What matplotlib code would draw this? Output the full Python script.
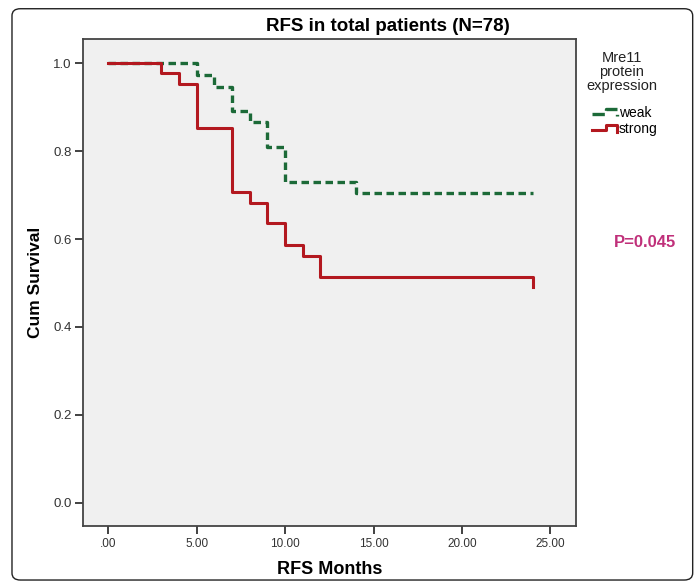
import numpy as np
import matplotlib
matplotlib.use('Agg')
from matplotlib import pyplot as plt
from matplotlib.patches import FancyBboxPatch
from matplotlib.lines import Line2D
from matplotlib.legend_handler import HandlerBase

# Kaplan-Meier steps
weak_times = [0, 5, 6, 7, 8, 9, 10, 14, 24]
weak_surv = [1.0, 0.973, 0.945, 0.892, 0.866, 0.810, 0.730, 0.704, 0.704]

strong_times = [0, 3, 4, 5, 7, 8, 9, 10, 11, 12, 24]
strong_surv = [1.0, 0.977, 0.952, 0.852, 0.706, 0.683, 0.636, 0.586, 0.561, 0.514, 0.492]

x_ticks = [0, 5, 10, 15, 20, 25]
x_tick_labels = ['.00', '5.00', '10.00', '15.00', '20.00', '25.00']
y_ticks = [0.0, 0.2, 0.4, 0.6, 0.8, 1.0]

green = '#1c6a38'
red = '#b3181f'
dash = (2.25, 1.35)


class StepHandler(HandlerBase):
    # small step-shaped glyph like the SPSS legend
    def create_artists(self, legend, orig_handle, xdescent, ydescent,
                       width, height, fontsize, trans):
        w, h = width, height
        xs = [-xdescent, -xdescent + 0.55 * w, -xdescent + 0.55 * w,
              -xdescent + w, -xdescent + w]
        ys = [-ydescent + 0.3 * h, -ydescent + 0.3 * h, -ydescent + 0.8 * h,
              -ydescent + 0.8 * h, -ydescent + 0.1 * h]
        ln = Line2D(xs, ys, color=orig_handle.get_color(),
                    lw=orig_handle.get_linewidth(),
                    linestyle=orig_handle.get_linestyle())
        ln.set_transform(trans)
        return [ln]


plt.rcParams['font.family'] = ['Liberation Sans', 'DejaVu Sans']

fig = plt.figure(figsize=(6.97, 5.82), dpi=100)

# rounded outer frame
frame = FancyBboxPatch((0.0172, 0.0034), 0.9766, 0.9816,
                       boxstyle='round,pad=0,rounding_size=0.012',
                       transform=fig.transFigure, fill=False,
                       edgecolor='#222222', lw=1.0)
fig.patches.append(frame)

ax = fig.add_axes([0.1195, 0.0962, 0.7069, 0.8363])
ax.set_facecolor('#f0f0f0')

ax.step(weak_times, weak_surv, where='post', color=green, lw=2.4,
        dashes=dash)
ax.step(strong_times, strong_surv, where='post', color=red, lw=2.2)

ax.set_xlim(-1.414, 26.45)
ax.set_ylim(-0.053, 1.0546)
ax.set_xticks(x_ticks)
ax.set_xticklabels(x_tick_labels)
ax.set_yticks(y_ticks)
ax.set_yticklabels(['%.1f' % v for v in y_ticks])
ax.tick_params(direction='out', length=5.5, width=1.3, colors='#333333')
ax.tick_params(axis='y', labelsize=9.5, pad=3)
ax.tick_params(axis='x', labelsize=8.5, pad=3)
for s in ax.spines.values():
    s.set_color('#444444')
    s.set_linewidth(1.3)

ax.set_xlabel('RFS Months', fontsize=13, fontweight='bold')
ax.xaxis.set_label_coords(0.5, -0.072)
ax.set_ylabel('Cum Survival', fontsize=12.5, fontweight='bold')
ax.yaxis.set_label_coords(-0.081, 0.5)

fig.text(0.557, 0.954, 'RFS in total patients (N=78)', fontsize=13.5,
         fontweight='bold', ha='center', va='center')

# legend block
fig.text(0.892, 0.876, 'Mre11\nprotein\nexpression', ha='center',
         va='center', fontsize=10.5, linespacing=1.0, color='#222222')
h_weak = Line2D([], [], color=green, lw=2.4, dashes=(1.5, 1.2))
h_weak.set_linestyle((0, (1.5, 1.2)))
h_strong = Line2D([], [], color=red, lw=2.2)
fig.legend([h_weak, h_strong], ['weak', 'strong'], loc='center left',
           bbox_to_anchor=(0.849, 0.792), frameon=False, fontsize=10,
           handlelength=1.8, handletextpad=0.15, labelspacing=0.12,
           borderpad=0, borderaxespad=0,
           handler_map={Line2D: StepHandler()})

fig.text(0.926, 0.583, 'P=0.045', color='#c0307a', fontsize=12,
         fontweight='bold', ha='center', va='center')

fig.savefig('out.png', dpi=100)
